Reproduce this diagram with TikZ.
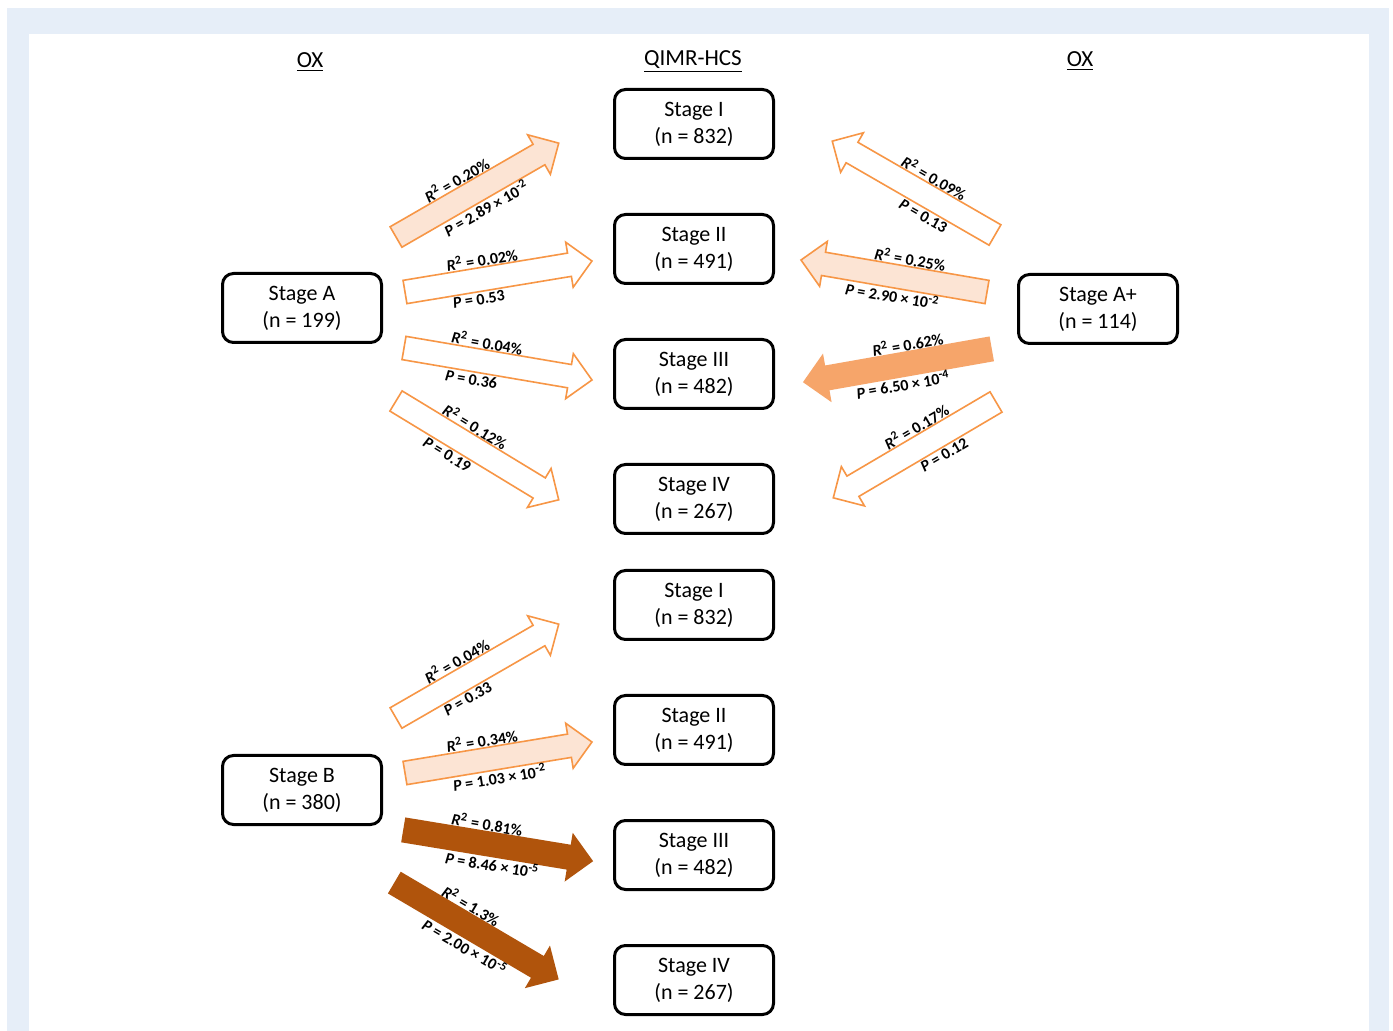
\documentclass[tikz,border=0pt]{standalone}
\usepackage{fontspec}
\setmainfont{Carlito}
\usetikzlibrary{positioning,calc,shapes.arrows}
\definecolor{bgblue}{HTML}{E6EEF8}
\definecolor{arrline}{HTML}{F79646}
\definecolor{peach}{HTML}{FCE4D4}
\definecolor{midorange}{HTML}{F6A56A}
\definecolor{darkorange}{HTML}{B0540C}
\newcommand{\rsq}[1]{\textit{R}\textsuperscript{2} = #1\%}
\newcommand{\pval}[1]{\textit{P} = #1}
\newcommand{\sci}[2]{#1 × 10\textsuperscript{-#2}}
\newcommand{\stagearrow}[6]{%
	\path let \p1=($(#3)-(#2)$), \n1={atan2(\y1,\x1)}, \n2={veclen(\x1,\y1)},
		\n3={ifthenelse(\x1>0,\n1,\n1+180)}, \n4={\n3+90}, \n5={\n3-90} in
		node[blockarrow,#1,rotate=\n1,minimum height=\n2,anchor=tail] (#2-arr) at (#2) {}
		node[assoclabel,rotate=\n3,anchor=#4] (#2-r) at ($(#2)!22.5pt!(#3)+(\n4:19.5)$) {#5}
		node[assoclabel,rotate=\n3,anchor=#4] (#2-p) at ($(#2)!22.5pt!(#3)+(\n5:19.5)$) {#6};}

\begin{document}
\begin{tikzpicture}[x=0.5pt,y=0.5pt,
	stage/.style={draw, line width=1.5pt, rounded corners=5.5pt, minimum width=79.5pt,
		minimum height=34.5pt, align=center, font=\fontsize{11}{13.5}\selectfont},
	head/.style={font=\fontsize{11.5}{13}\selectfont},
	blockarrow/.style={single arrow, draw=arrline, fill=white, line width=0.8pt,
		inner xsep=0pt, inner ysep=5.5pt, single arrow head extend=5.5pt,
		single arrow tip angle=90, outer sep=0pt},
	nofill/.style={},
	lightfill/.style={fill=peach},
	midfill/.style={fill=midorange, draw=midorange},
	strongfill/.style={fill=darkorange, draw=darkorange},
	assoclabel/.style={inner sep=0pt, font=\fontsize{8}{9}\selectfont\bfseries},
	node distance=26.5pt]
	\useasboundingbox (0,0) rectangle (1393,-1031);
	\fill[bgblue] (7,-8) rectangle (1389,-1031);
	\fill[white] (29,-34) rectangle (1369,-1031);

	\node[head] (hoxl) at (310,-62) {\underline{OX}};
	\node[head] (hqimr) at (693,-62) {\underline{QIMR-HCS}};
	\node[head] (hoxr) at (1080,-61) {\underline{OX}};

	\node[stage] (stI) at (694,-124) {Stage I\\(n = 832)};
	\node[stage, below=of stI] (stII) {Stage II\\(n = 491)};
	\node[stage, below=of stII] (stIII) {Stage III\\(n = 482)};
	\node[stage, below=of stIII] (stIV) {Stage IV\\(n = 267)};
	\node[stage] (stIb) at (694,-605) {Stage I\\(n = 832)};
	\node[stage, below=of stIb] (stIIb) {Stage II\\(n = 491)};
	\node[stage, below=of stIIb] (stIIIb) {Stage III\\(n = 482)};
	\node[stage, below=of stIIIb] (stIVb) {Stage IV\\(n = 267)};
	\node[stage] (stA) at (302,-308) {Stage A\\(n = 199)};
	\node[stage] (stAp) at (1098,-309) {Stage A+\\(n = 114)};
	\node[stage] (stB) at (302,-790) {Stage B\\(n = 380)};

	\coordinate (tA1) at (396,-237); \coordinate (hA1) at (559,-143);
	\coordinate (tA2) at (405,-292); \coordinate (hA2) at (592,-261);
	\coordinate (tA3) at (404,-348); \coordinate (hA3) at (592,-380);
	\coordinate (tA4) at (396,-401); \coordinate (hA4) at (559,-500);
	\coordinate (tAp1) at (995,-235); \coordinate (hAp1) at (832,-141);
	\coordinate (tAp2) at (987,-292); \coordinate (hAp2) at (801,-260);
	\coordinate (tAp3) at (991,-349); \coordinate (hAp3) at (804,-382);
	\coordinate (tAp4) at (996,-402); \coordinate (hAp4) at (833,-498);
	\coordinate (tB1) at (396,-718); \coordinate (hB1) at (559,-624);
	\coordinate (tB2) at (405,-773); \coordinate (hB2) at (592,-742);
	\coordinate (tB3) at (404,-830); \coordinate (hB3) at (592,-861);
	\coordinate (tB4) at (395,-883); \coordinate (hB4) at (558,-979);

	\stagearrow{lightfill}{tA1}{hA1}{west}{\rsq{0.20}}{\pval{\sci{2.89}{2}}}
	\stagearrow{nofill}{tA2}{hA2}{west}{\rsq{0.02}}{\pval{0.53}}
	\stagearrow{nofill}{tA3}{hA3}{west}{\rsq{0.04}}{\pval{0.36}}
	\stagearrow{nofill}{tA4}{hA4}{west}{\rsq{0.12}}{\pval{0.19}}
	\stagearrow{nofill}{tAp1}{hAp1}{east}{\rsq{0.09}}{\pval{0.13}}
	\stagearrow{lightfill}{tAp2}{hAp2}{east}{\rsq{0.25}}{\pval{\sci{2.90}{2}}}
	\stagearrow{midfill}{tAp3}{hAp3}{east}{\rsq{0.62}}{\pval{\sci{6.50}{4}}}
	\stagearrow{nofill}{tAp4}{hAp4}{east}{\rsq{0.17}}{\pval{0.12}}
	\stagearrow{nofill}{tB1}{hB1}{west}{\rsq{0.04}}{\pval{0.33}}
	\stagearrow{lightfill}{tB2}{hB2}{west}{\rsq{0.34}}{\pval{\sci{1.03}{2}}}
	\stagearrow{strongfill}{tB3}{hB3}{west}{\rsq{0.81}}{\pval{\sci{8.46}{5}}}
	\stagearrow{strongfill}{tB4}{hB4}{west}{\rsq{1.3}}{\pval{\sci{2.00}{5}}}
\end{tikzpicture}
\end{document}
